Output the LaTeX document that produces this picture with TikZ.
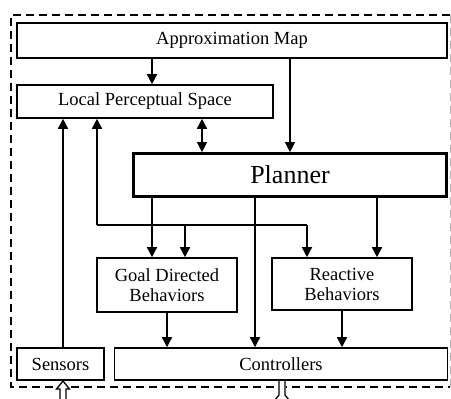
\documentclass[tikz,border=0pt]{standalone}
\usepackage{fontspec}
\setmainfont{Liberation Serif}
\usetikzlibrary{arrows.meta}
\begin{document}
\begin{tikzpicture}[x=1pt,y=-1pt,
  box/.style={draw,line width=1.6pt,inner sep=0pt,font=\fontsize{18.5}{20}\selectfont,align=center},
  thickbox/.style={box,line width=2.8pt,font=\fontsize{26}{28}\selectfont},
  conn/.style={line width=1.5pt,-{Triangle[length=10pt,width=10pt]}},
  plain/.style={line width=1.5pt},
  frame/.style={line width=1.5pt,dash pattern=on 8pt off 5pt}]
\useasboundingbox (0,0) rectangle (451,399);
% frame
\draw[frame] (450,15) -- (11,15) -- (11,387) -- (450,387);
\draw[frame,gray!60,line width=0.8pt] (450,15) -- (450,387);
% nodes
\node[box,minimum width=430pt,minimum height=35pt] (map) at (232,40.5) {Approximation Map};
\node[box,minimum width=256pt,minimum height=33pt] (lps) at (145,101.5) {Local Perceptual Space};
\node[thickbox,minimum width=313pt,minimum height=43pt] (planner) at (290,175) {Planner};
\node[box,minimum width=140pt,minimum height=54pt] (goal) at (167,285) {Goal Directed\\Behaviors};
\node[box,minimum width=140pt,minimum height=52pt] (react) at (342,284) {Reactive\\Behaviors};
\node[box,minimum width=87pt,minimum height=32pt] (sensors) at (60.5,364) {Sensors};
\node[box,minimum width=333pt,minimum height=32pt] (ctrl) at (281,364) {Controllers};
% x references
\coordinate (x63) at (63,0);
\coordinate (x97) at (97,0);
\coordinate (x152) at (152,0);
\coordinate (x185) at (185,0);
\coordinate (x202) at (202,0);
\coordinate (x255) at (255,0);
\coordinate (x290) at (290,0);
\coordinate (x307) at (307,0);
\coordinate (x377) at (377,0);
\coordinate (j1) at (97,225);
\coordinate (j2) at (185,225);
\coordinate (j3) at (307,225);
% connectors
\draw[conn] (x152 |- map.south) -- (x152 |- lps.north);
\draw[conn] (x290 |- map.south) -- (x290 |- planner.north);
\draw[conn,{Triangle[length=10pt,width=10pt]}-{Triangle[length=10pt,width=10pt]}] (x202 |- lps.south) -- (x202 |- planner.north);
\draw[conn] (x63 |- sensors.north) -- (x63 |- lps.south);
\draw[conn] (j1) -- (x97 |- lps.south);
\draw[plain] (j1) -- (j3);
\draw[conn] (j3) -- (x307 |- react.north);
\draw[conn] (j2) -- (x185 |- goal.north);
\draw[conn] (x152 |- planner.south) -- (x152 |- goal.north);
\draw[conn] (x377 |- planner.south) -- (x377 |- react.north);
\draw[conn] (x255 |- planner.south) -- (x255 |- ctrl.north);
\draw[conn] (goal.south) -- (goal.south |- ctrl.north);
\draw[conn] (react.south) -- (react.south |- ctrl.north);
% hollow arrows at the bottom
\coordinate (sin) at (63,381);
\filldraw[fill=white,line width=1.3pt] (60,401) -- (60,389) -- (56.5,389) -- (sin) -- (69.5,389) -- (66,389) -- (66,401);
\coordinate (cout) at (282,381);
\fill[white] (278.5,382) rectangle (285.5,401);
\draw[line width=1.3pt] (279,381) -- (279,395) -- (275,400);
\draw[line width=1.3pt] (285,381) -- (285,395) -- (289,400);
\end{tikzpicture}
\end{document}
